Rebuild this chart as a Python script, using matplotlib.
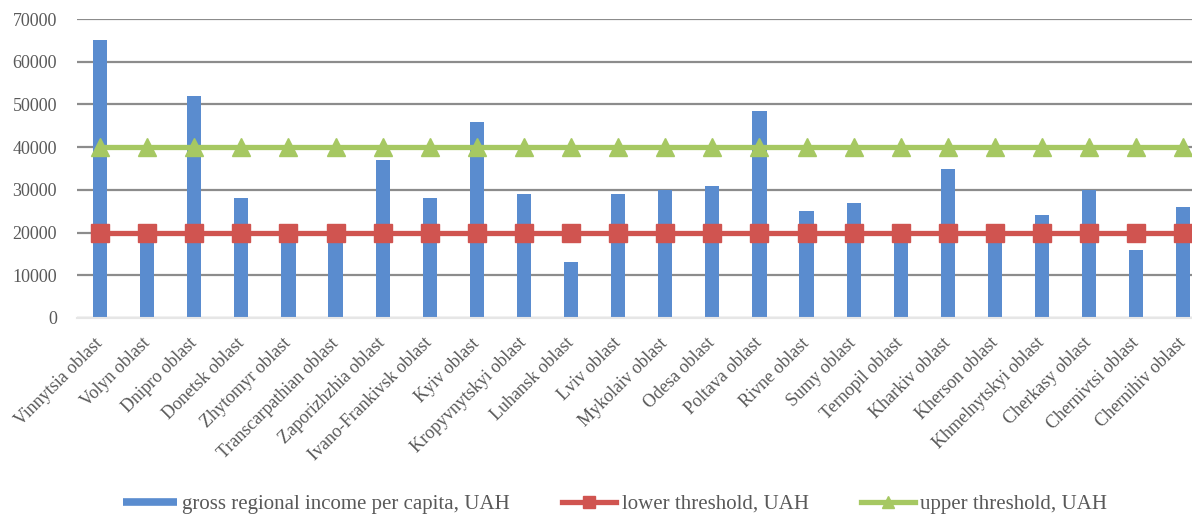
import numpy as np
import matplotlib
matplotlib.use("Agg")
import matplotlib.pyplot as plt
from matplotlib.lines import Line2D
from matplotlib.transforms import ScaledTranslation

regions = ["Vinnytsia oblast", "Volyn oblast", "Dnipro oblast", "Donetsk oblast",
           "Zhytomyr oblast", "Transcarpathian oblast", "Zaporizhzhia oblast",
           "Ivano-Frankivsk oblast", "Kyiv oblast", "Kropyvnytskyi oblast",
           "Luhansk oblast", "Lviv oblast", "Mykolaiv oblast", "Odesa oblast",
           "Poltava oblast", "Rivne oblast", "Sumy oblast", "Ternopil oblast",
           "Kharkiv oblast", "Kherson oblast", "Khmelnytskyi oblast",
           "Cherkasy oblast", "Chernivtsi oblast", "Chernihiv oblast"]
income = [65000, 20000, 52000, 28000, 20000, 20000, 37000, 28000, 46000, 29000,
          13000, 29000, 30000, 31000, 48500, 25000, 27000, 20000, 35000, 20000,
          24000, 30000, 16000, 26000]
lower = [20000] * len(regions)
upper = [40000] * len(regions)

plt.rcParams["font.family"] = ["Liberation Serif", "DejaVu Serif"]
grey = "#595959"
blue = "#5a8ccf"
red = "#d05450"
green = "#a6c862"

fig = plt.figure(figsize=(11.92, 5.15), dpi=100)
x = np.arange(len(regions))
sp = 47.1 / 1192
ax = fig.add_axes([76.5 / 1192, 1 - 318 / 515, sp * len(regions), 299 / 515])

ax.bar(x, income, width=0.3, color=blue, zorder=2)
ax.plot(x, lower, color=red, lw=3.8, marker="s", ms=13, zorder=3)
ax.plot(x, upper, color=green, lw=3.8, marker="^", ms=13, zorder=3)

ax.set_ylim(0, 70000)
ax.set_xlim(-0.5, len(regions) - 0.5)
ax.set_yticks(np.arange(0, 70001, 10000))
ax.yaxis.grid(True, color="#8c8c8c", lw=1.6, zorder=0)
ax.set_axisbelow(True)
for s in ["top", "right", "left"]:
    ax.spines[s].set_visible(False)
ax.spines["bottom"].set_color("#e6e6e6")
ax.spines["bottom"].set_linewidth(1.5)
ax.tick_params(length=0, labelsize=13, labelcolor=grey)
ax.tick_params(axis="y", pad=14)
ax.tick_params(axis="x", pad=12)
ax.set_xticks(x)
ax.set_xticklabels(regions, rotation=45, ha="right", rotation_mode="anchor")
shift = ScaledTranslation(-6 / 100, 0, fig.dpi_scale_trans)
for lab in ax.get_xticklabels():
    lab.set_transform(lab.get_transform() + shift)

handles = [Line2D([], [], color=blue, lw=5.5, solid_capstyle="butt"),
           Line2D([], [], color=red, lw=3.8, marker="s", ms=9),
           Line2D([], [], color=green, lw=3.8, marker="^", ms=9)]
labels = ["gross regional income per capita, UAH", "lower threshold, UAH",
          "upper threshold, UAH"]
fig.legend(handles, labels, loc="center", bbox_to_anchor=(0.516, 0.021), ncol=3,
           frameon=False, fontsize=15, labelcolor=grey, handlelength=2.6,
           columnspacing=2.5, handletextpad=0.25)

fig.savefig("out.png", dpi=100)
